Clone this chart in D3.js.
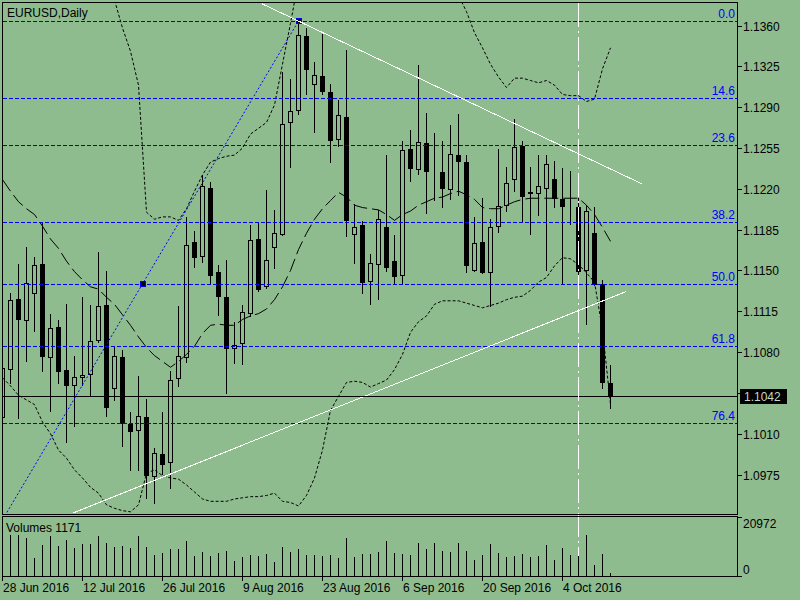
<!DOCTYPE html>
<html>
<head>
<meta charset="utf-8">
<script src="https://cdn.jsdelivr.net/npm/d3@7"></script>
<style>
  body { margin: 0; background: #8fbc8f; }
  text { font-family: "Liberation Sans", Arial, sans-serif; font-size: 12px; }
</style>
</head>
<body>
<div id="chart"></div>
<script>
// EURUSD daily, 28 Jun 2016 .. 12 Oct 2016 (bar index 0..76)
var opens = [1.10246, 1.10655, 1.11255, 1.11072, 1.11307, 1.11556, 1.10754, 1.11015, 1.10649, 1.10514,
  1.10586, 1.10609, 1.10900, 1.11206, 1.10488, 1.10758, 1.10186, 1.10128, 1.10246, 1.09733,
  1.09928, 1.09854, 1.10578, 1.10754, 1.11741, 1.11621, 1.12208, 1.11487, 1.11273, 1.10835,
  1.10878, 1.11135, 1.11773, 1.11363, 1.11701, 1.11813, 1.12774, 1.12873, 1.13514, 1.13100,
  1.13171, 1.13031, 1.12628, 1.12817, 1.11813, 1.11893, 1.11406, 1.11556, 1.11873, 1.11578,
  1.11458, 1.12545, 1.12371, 1.12594, 1.12356, 1.12345, 1.12202, 1.12493, 1.12431, 1.11507,
  1.11744, 1.11484, 1.11878, 1.12058, 1.12285, 1.12570, 1.12173, 1.12165, 1.12208, 1.12285,
  1.12116, 1.12047, 1.12045, 1.11501, 1.11822, 1.11384, 1.10535];
var highs = [1.10683, 1.11309, 1.11558, 1.11704, 1.11618, 1.11907, 1.11129, 1.11078, 1.11215, 1.10763,
  1.11269, 1.11206, 1.11657, 1.11498, 1.10849, 1.10820, 1.10286, 1.10597, 1.10397, 1.09977,
  1.10289, 1.10640, 1.11192, 1.11959, 1.11835, 1.12322, 1.12256, 1.11550, 1.11593, 1.11058,
  1.11206, 1.11887, 1.11907, 1.12193, 1.12021, 1.13203, 1.13145, 1.13643, 1.13580, 1.13289,
  1.13531, 1.13100, 1.12965, 1.13394, 1.12070, 1.11921, 1.11641, 1.12021, 1.12493, 1.11807,
  1.12613, 1.12708, 1.13259, 1.12851, 1.12679, 1.12607, 1.12751, 1.12845, 1.12493, 1.11959,
  1.12122, 1.11944, 1.12542, 1.12384, 1.12802, 1.12613, 1.12384, 1.12493, 1.12487, 1.12436,
  1.12379, 1.12356, 1.12122, 1.12058, 1.12041, 1.11421, 1.10692];
var lows = [1.10228, 1.10537, 1.10237, 1.10720, 1.10977, 1.10634, 1.10291, 1.10535, 1.10025, 1.10162,
  1.10520, 1.10420, 1.10889, 1.10248, 1.10391, 1.09997, 1.09791, 1.09791, 1.09551, 1.09505,
  1.09757, 1.09637, 1.10512, 1.10711, 1.11526, 1.11569, 1.11387, 1.11121, 1.10449, 1.10709,
  1.10698, 1.11106, 1.11327, 1.11352, 1.11521, 1.11807, 1.12384, 1.12845, 1.13017, 1.12685,
  1.13014, 1.12431, 1.12565, 1.11792, 1.11564, 1.11307, 1.11212, 1.11255, 1.11492, 1.11384,
  1.11384, 1.12264, 1.12328, 1.11993, 1.12107, 1.12045, 1.12113, 1.12150, 1.11487, 1.11492,
  1.11478, 1.11198, 1.11830, 1.12013, 1.12184, 1.11916, 1.11816, 1.11979, 1.11507, 1.12041,
  1.11384, 1.11899, 1.11393, 1.11041, 1.11378, 1.10492, 1.10320];
var closes = [1.10666, 1.11249, 1.11084, 1.11393, 1.11547, 1.10763, 1.11007, 1.10634, 1.10514, 1.10586,
  1.10606, 1.10892, 1.11198, 1.10325, 1.10769, 1.10192, 1.10119, 1.10254, 1.09748, 1.09934,
  1.09842, 1.10563, 1.10769, 1.11721, 1.11612, 1.12227, 1.11464, 1.11278, 1.10835, 1.10863,
  1.11144, 1.11764, 1.11344, 1.11587, 1.11822, 1.12759, 1.12865, 1.13523, 1.13229, 1.13180,
  1.13036, 1.12616, 1.12836, 1.11930, 1.11873, 1.11398, 1.11564, 1.11942, 1.11530, 1.11455,
  1.12536, 1.12379, 1.12602, 1.12350, 1.12350, 1.12208, 1.12499, 1.12436, 1.11544, 1.11736,
  1.11487, 1.11873, 1.12050, 1.12251, 1.12559, 1.12142, 1.12167, 1.12221, 1.12414, 1.12122,
  1.12050, 1.12043, 1.11492, 1.12007, 1.11384, 1.10540, 1.10420];
var volumes = [13000, 14844, 14844, 13511, 6666, 11349, 14232, 10989, 13151, 10269,
  11710, 11710, 14232, 12070, 10629, 10989, 10269, 14232, 10629, 7746,
  8467, 9908, 9908, 12791, 7386, 8827, 7386, 8467, 9188, 5585,
  7026, 7746, 7386, 8107, 5224, 10629, 8827, 9908, 7746, 7746,
  7386, 7746, 6666, 13511, 7026, 8107, 8107, 8827, 12791, 8467,
  8107, 7746, 12070, 9908, 12070, 9188, 8827, 12070, 9188, 5945,
  7746, 11710, 8467, 7026, 7386, 8107, 7026, 7386, 11349, 5945,
  10269, 7746, 7386, 14592, 4143, 8107, 1171];

// bands (upper band runs off the top in two stretches)
var bandUpper = [1.1470, 1.1465, 1.1460, 1.1455, 1.1450, 1.1448, 1.1445, 1.1440, 1.1432, 1.1425,
  1.1415, 1.1405, 1.1395, 1.1388, 1.1382, 1.1358, 1.1338, 1.1309, 1.1200, 1.1194,
  1.1196, 1.1196, 1.1193, 1.1203, 1.1218, 1.1232, 1.1243, 1.1246, 1.1248, 1.1249,
  1.1255, 1.1267, 1.1272, 1.1277, 1.1292, 1.1327, 1.1362, 1.1399, 1.1420, 1.1435,
  1.1445, 1.1450, 1.1452, 1.1455, 1.1455, 1.1452, 1.1448, 1.1445, 1.1440, 1.1435,
  1.1430, 1.1420, 1.1415, 1.1410, 1.1405, 1.1400, 1.1392, 1.1386, 1.1372, 1.1354,
  1.1341, 1.1327, 1.1316, 1.1307, 1.1315, 1.1315, 1.1313, 1.1311, 1.1313, 1.1309,
  1.1301, 1.1300, 1.1300, 1.1295, 1.1297, 1.1323, 1.1341];
var bandMiddle = [1.1228, 1.1218, 1.1209, 1.1203, 1.1198, 1.1188, 1.1177, 1.1169, 1.1158, 1.1149,
  1.1142, 1.1136, 1.1134, 1.1127, 1.1121, 1.1112, 1.1103, 1.1093, 1.1084, 1.1077,
  1.1072, 1.1067, 1.1072, 1.1078, 1.1085, 1.1096, 1.1103, 1.1104, 1.1103, 1.1103,
  1.1108, 1.1111, 1.1113, 1.1117, 1.1125, 1.1136, 1.1150, 1.1168, 1.1182, 1.1194,
  1.1203, 1.1210, 1.1217, 1.1213, 1.1206, 1.1204, 1.1203, 1.1202, 1.1198, 1.1193,
  1.1198, 1.1201, 1.1206, 1.1209, 1.1212, 1.1213, 1.1216, 1.1218, 1.1215, 1.1211,
  1.1204, 1.1203, 1.1203, 1.1206, 1.1209, 1.1211, 1.1212, 1.1212, 1.1212, 1.1212,
  1.1212, 1.1212, 1.1212, 1.1206, 1.1198, 1.1187, 1.1175];
var bandLower = [1.1058, 1.1051, 1.1043, 1.1039, 1.1035, 1.1020, 1.1010, 1.0996, 1.0989, 1.0979,
  1.0972, 1.0964, 1.0959, 1.0949, 1.0946, 1.0944, 1.0943, 1.0949, 1.0976, 1.0979,
  1.0974, 1.0972, 1.0971, 1.0966, 1.0960, 1.0954, 1.0952, 1.0952, 1.0952, 1.0954,
  1.0955, 1.0956, 1.0956, 1.0957, 1.0959, 1.0952, 1.0951, 1.0948, 1.0957, 1.0972,
  1.0996, 1.1030, 1.1042, 1.1054, 1.1055, 1.1054, 1.1050, 1.1053, 1.1056, 1.1065,
  1.1078, 1.1097, 1.1106, 1.1111, 1.1121, 1.1124, 1.1124, 1.1124, 1.1122, 1.1120,
  1.1118, 1.1120, 1.1122, 1.1125, 1.1127, 1.1128, 1.1133, 1.1140, 1.1144, 1.1154,
  1.1161, 1.1160, 1.1155, 1.1148, 1.1140, 1.1099, 1.1035];

var priceTicks = [1.1360, 1.1325, 1.1290, 1.1255, 1.1220, 1.1185, 1.1150, 1.1115, 1.1080, 1.1045, 1.1010, 1.0975];
var dateTickBars = [0, 10, 20, 30, 40, 50, 60, 70];
var dateTickLabels = ["28 Jun 2016", "12 Jul 2016", "26 Jul 2016", "9 Aug 2016", "23 Aug 2016", "6 Sep 2016", "20 Sep 2016", "4 Oct 2016"];
var volumeTicks = [0, 20972];

// fibonacci retracement: anchored 24 Jun low (bar -2) to 18 Aug high (bar 37)
var fibLevels = [0, 14.6, 23.6, 38.2, 50.0, 61.8, 76.4];
var fibHigh = 1.1364, fibLow = 1.0913;
var fibHighBar = 37, fibLowBar = -2;

// white trend lines [bar, price, bar, price]
var trendUpper = [32.4, 1.13789, 79.9, 1.12244];
var trendLower = [8.8, 1.09419, 77.9, 1.11318];
var vlineBar = 72;
var lastPrice = 1.1042;

var width = 800, height = 600;
var bg = "#8fbc8f";

var svg = d3.select("#chart").append("svg")
    .attr("width", width)
    .attr("height", height);

svg.append("rect").attr("width", width).attr("height", height).attr("fill", bg);

var x = d3.scaleLinear().domain([0, 76]).range([2.5, 610.5]);
var y = d3.scaleLinear().domain([1.0975, 1.1360]).range([474.5, 25.7]);
var vy = d3.scaleLinear().domain([0, 20972]).range([576.5, 517.5]);
function ry(p) { return Math.round(y(p)); }

svg.append("clipPath").attr("id", "mainclip")
    .append("rect").attr("x", 3).attr("y", 3).attr("width", 734).attr("height", 511);

var main = svg.append("g").attr("clip-path", "url(#mainclip)");

// candles
var bars = d3.range(opens.length);
main.selectAll(".wick").data(bars).enter().append("line")
    .attr("class", "wick")
    .attr("x1", function (i) { return x(i); })
    .attr("x2", function (i) { return x(i); })
    .attr("y1", function (i) { return ry(highs[i]); })
    .attr("y2", function (i) { return ry(lows[i]) + 1; })
    .attr("stroke", "#000")
    .attr("shape-rendering", "crispEdges");

main.selectAll(".body").data(bars).enter().append("rect")
    .attr("class", "body")
    .attr("x", function (i) { return x(i) - 2; })
    .attr("y", function (i) { return ry(Math.max(opens[i], closes[i])) + 0.5; })
    .attr("width", 4)
    .attr("height", function (i) {
        return ry(Math.min(opens[i], closes[i])) - ry(Math.max(opens[i], closes[i]));
    })
    .attr("fill", function (i) { return closes[i] >= opens[i] ? bg : "#000"; })
    .attr("stroke", "#000")
    .attr("shape-rendering", "crispEdges");

// bands
function bandLine(arr) {
    return d3.line().x(function (d, i) { return x(i); }).y(function (d) { return y(d); })(arr);
}
main.append("path").attr("d", bandLine(bandUpper))
    .attr("fill", "none").attr("stroke", "#000").attr("stroke-dasharray", "3,2");
main.append("path").attr("d", bandLine(bandLower))
    .attr("fill", "none").attr("stroke", "#000").attr("stroke-dasharray", "3,2");
main.append("path").attr("d", bandLine(bandMiddle))
    .attr("fill", "none").attr("stroke", "#000").attr("stroke-dasharray", "14,5");

// fibonacci levels
function fibPrice(l) { return fibHigh - (fibHigh - fibLow) * l / 100; }
main.selectAll(".fib").data(fibLevels).enter().append("line")
    .attr("class", "fib")
    .attr("x1", 3).attr("x2", 737)
    .attr("y1", function (d) { return ry(fibPrice(d)) + 0.5; })
    .attr("y2", function (d) { return ry(fibPrice(d)) + 0.5; })
    .attr("stroke", "#0000ff")
    .attr("stroke-dasharray", "4,2")
    .attr("shape-rendering", "crispEdges");
main.selectAll(".fibtext").data(fibLevels).enter().append("text")
    .attr("class", "fibtext")
    .attr("x", 735)
    .attr("y", function (d) { return ry(fibPrice(d)) - 3; })
    .attr("text-anchor", "end")
    .attr("fill", "#0000ff")
    .text(function (d) { return d.toFixed(1); });

main.append("line")
    .attr("x1", x(fibLowBar)).attr("y1", y(fibLow))
    .attr("x2", x(fibHighBar)).attr("y2", y(fibHigh))
    .attr("stroke", "#0000ff").attr("stroke-dasharray", "2,2");
var markers = [[(fibLowBar + fibHighBar) / 2, (fibLow + fibHigh) / 2], [fibHighBar, fibHigh]];
main.selectAll(".marker").data(markers).enter().append("rect")
    .attr("x", function (d) { return Math.round(x(d[0])) - 2.5; })
    .attr("y", function (d) { return ry(d[1]) - 2.5; })
    .attr("width", 5).attr("height", 5)
    .attr("fill", "#000").attr("stroke", "#0000ff")
    .attr("shape-rendering", "crispEdges");

// trend lines
[trendUpper, trendLower].forEach(function (t) {
    main.append("line")
        .attr("x1", x(t[0])).attr("y1", y(t[1]))
        .attr("x2", x(t[2])).attr("y2", y(t[3]))
        .attr("stroke", "#fff")
        .attr("shape-rendering", "crispEdges");
});

// vertical line through both windows
svg.append("line")
    .attr("x1", x(vlineBar)).attr("x2", x(vlineBar))
    .attr("y1", 3).attr("y2", 576)
    .attr("stroke", "#fff")
    .attr("stroke-dasharray", "24,4,2,4")
    .attr("shape-rendering", "crispEdges");

// last price line
main.append("line")
    .attr("x1", 3).attr("x2", 737)
    .attr("y1", ry(lastPrice) + 0.5).attr("y2", ry(lastPrice) + 0.5)
    .attr("stroke", "#000")
    .attr("shape-rendering", "crispEdges");

// window borders
svg.append("rect").attr("x", 2.5).attr("y", 2.5).attr("width", 735).attr("height", 512)
    .attr("fill", "none").attr("stroke", "#000").attr("shape-rendering", "crispEdges");
svg.append("rect").attr("x", 2.5).attr("y", 516.5).attr("width", 735).attr("height", 60)
    .attr("fill", "none").attr("stroke", "#000").attr("shape-rendering", "crispEdges");

// price axis
svg.selectAll(".ptick").data(priceTicks).enter().append("line")
    .attr("x1", 737).attr("x2", 742)
    .attr("y1", function (d) { return ry(d) + 0.5; })
    .attr("y2", function (d) { return ry(d) + 0.5; })
    .attr("stroke", "#000").attr("shape-rendering", "crispEdges");
svg.selectAll(".plabel").data(priceTicks).enter().append("text")
    .attr("x", 743)
    .attr("y", function (d) { return ry(d) + 5; })
    .attr("fill", "#000")
    .text(function (d) { return d.toFixed(4); });

// last price box
svg.append("rect")
    .attr("x", 740).attr("y", ry(lastPrice) - 7)
    .attr("width", 47).attr("height", 15)
    .attr("fill", "#000");
svg.append("text")
    .attr("x", 744).attr("y", ry(lastPrice) + 5)
    .attr("fill", "#c4d8c4")
    .text(lastPrice.toFixed(4));

// volumes
var vol = svg.append("g");
vol.selectAll(".vbar").data(bars).enter().append("line")
    .attr("x1", function (i) { return x(i); })
    .attr("x2", function (i) { return x(i); })
    .attr("y1", function (i) { return Math.round(vy(volumes[i])); })
    .attr("y2", 576.5)
    .attr("stroke", "#000")
    .attr("shape-rendering", "crispEdges");
svg.selectAll(".vtick").data(volumeTicks).enter().append("line")
    .attr("x1", 737).attr("x2", 742)
    .attr("y1", function (d) { return Math.round(vy(d)) - 0.5; })
    .attr("y2", function (d) { return Math.round(vy(d)) - 0.5; })
    .attr("stroke", "#000").attr("shape-rendering", "crispEdges");
svg.append("text").attr("x", 743).attr("y", 528).text(volumeTicks[1]);
svg.append("text").attr("x", 743).attr("y", 574).text(volumeTicks[0]);
svg.append("text").attr("x", 6).attr("y", 531.5).text("Volumes " + volumes[volumes.length - 1]);

// date axis
svg.selectAll(".dtick").data(dateTickBars).enter().append("line")
    .attr("x1", function (d) { return x(d); })
    .attr("x2", function (d) { return x(d); })
    .attr("y1", 576).attr("y2", 581)
    .attr("stroke", "#000").attr("shape-rendering", "crispEdges");
svg.selectAll(".dlabel").data(dateTickBars).enter().append("text")
    .attr("x", function (d) { return x(d) + 0.5; })
    .attr("y", 592)
    .text(function (d, i) { return dateTickLabels[i]; });

// title
svg.append("text").attr("x", 7).attr("y", 16.5).text("EURUSD,Daily");
</script>
</body>
</html>
